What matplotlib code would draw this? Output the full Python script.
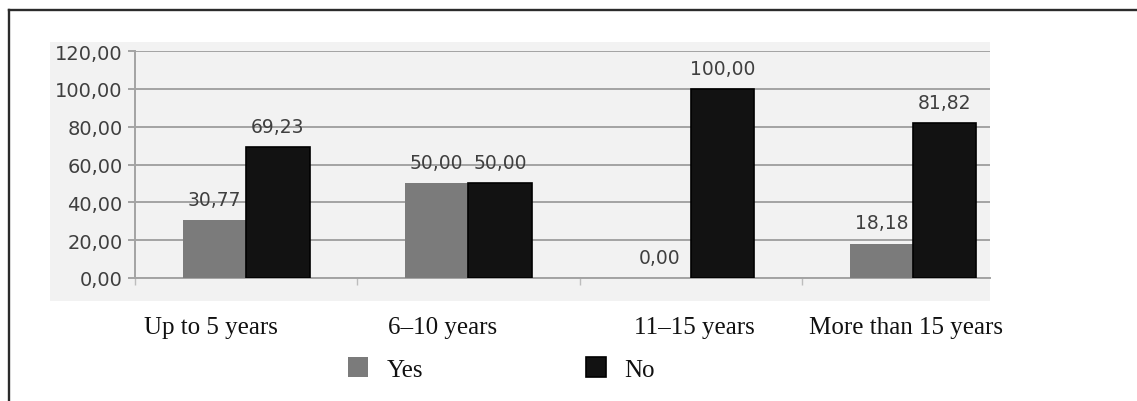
import matplotlib
matplotlib.use("Agg")
import matplotlib.pyplot as plt
import numpy as np
from matplotlib.patches import Rectangle
from matplotlib.lines import Line2D

# Data
categories = ["Up to 5 years", "6\u201310 years", "11\u201315 years", "More than 15 years"]
series_names = ["Yes", "No"]
yes_values = [30.77, 50.00, 0.00, 18.18]
no_values = [69.23, 50.00, 100.00, 81.82]
y_ticks = [0, 20, 40, 60, 80, 100, 120]

W, H = 1137, 402
fig = plt.figure(figsize=(W / 100, H / 100), dpi=100)
fig.patch.set_facecolor("white")

def fx(px):
    return px / W

def fy(py):
    return 1 - py / H

# Light gray chart area behind the plot
fig.patches.append(Rectangle((fx(50), fy(302)), fx(990) - fx(50), fy(43) - fy(302),
                             transform=fig.transFigure, facecolor="#f2f2f2",
                             edgecolor="none", zorder=-5))

# Outer frame (left and top edges)
fig.lines.append(Line2D([fx(9), fx(9)], [0, fy(11)], transform=fig.transFigure,
                        color="#2b2b2b", lw=1.7))
fig.lines.append(Line2D([fx(9), 1], [fy(11), fy(11)], transform=fig.transFigure,
                        color="#2b2b2b", lw=1.7))

ax = fig.add_axes([fx(135), fy(279), fx(990) - fx(135), fy(52) - fy(279)])
ax.set_facecolor("none")

x = np.arange(len(categories))
bw = 0.285
grid_col = "#a3a3a3"
text_col = "#3f3f3f"

bars_yes = ax.bar(x - bw / 2, yes_values, bw, color="#7b7b7b", edgecolor="none",
                  label=series_names[0], zorder=3)
bars_no = ax.bar(x + bw / 2, no_values, bw, color="#121212", edgecolor="#000000",
                 lw=1.2, label=series_names[1], zorder=3)

def fmt(v):
    return f"{v:.2f}".replace(".", ",")

for bars, vals in ((bars_yes, yes_values), (bars_no, no_values)):
    for b, v in zip(bars, vals):
        ax.annotate(fmt(v), (b.get_x() + b.get_width() / 2, v),
                    xytext=(0, 11), textcoords="offset points",
                    ha="center", va="baseline", fontsize=13.5,
                    color=text_col, family="DejaVu Sans", zorder=4)

ax.set_yticks(y_ticks)
ax.set_yticklabels([fmt(t) for t in y_ticks], fontsize=14, color=text_col,
                   family="DejaVu Sans")
ax.yaxis.grid(True, color=grid_col, lw=1.4)
ax.set_axisbelow(True)
ax.tick_params(axis="y", length=5, width=1.4, color=grid_col, pad=4)

ax.set_xticks([])
ax.set_xticks(np.arange(len(categories)) - 0.5, minor=True)
ax.tick_params(axis="x", which="minor", length=5, width=1.0, color="#bdbdbd",
               labelbottom=False)

ax.set_ylim(0, 120)
# the plot area is cut off a little past the last group
ax.set_xlim(-0.5, len(categories) - 1 + 0.346)

for side in ("top", "right"):
    ax.spines[side].set_visible(False)
for side in ("left", "bottom"):
    ax.spines[side].set_color(grid_col)
    ax.spines[side].set_linewidth(1.4)

# Category captions below the chart area
label_px = [211, 443, 694, 906]
for name, px in zip(categories, label_px):
    fig.text(fx(px), fy(334), name, ha="center", va="baseline",
             fontsize=18, family="Liberation Serif", color="#111111")

fig.legend(handles=[bars_yes, bars_no], labels=series_names,
           loc="center left", bbox_to_anchor=(fx(348), fy(370)),
           ncol=2, frameon=False,
           prop={"family": "Liberation Serif", "size": 18},
           handlelength=0.8, handleheight=0.8, handletextpad=0.75,
           columnspacing=6.5, borderpad=0, borderaxespad=0,
           labelcolor="#111111")

fig.savefig("out.png", dpi=100)
